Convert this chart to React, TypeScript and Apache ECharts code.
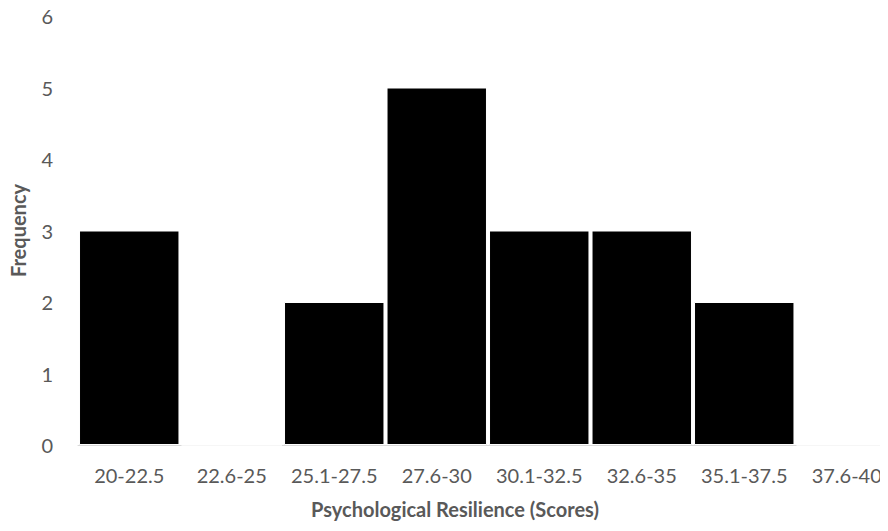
import React, { useEffect, useRef } from "react";
import * as echarts from "echarts";

const categories = ["20-22.5", "22.6-25", "25.1-27.5", "27.6-30", "30.1-32.5", "32.6-35", "35.1-37.5", "37.6-40"];
const frequencies = [3, 0, 2, 5, 3, 3, 2, 0];
const xTitle = "Psychological Resilience (Scores)";
const yTitle = "Frequency";

const FONT = "Lato, 'Open Sans', sans-serif";

export default function App() {
  const ref = useRef<HTMLDivElement>(null);
  useEffect(() => {
    if (!ref.current) return;
    const chart = echarts.init(ref.current, undefined, { renderer: "svg" });
    chart.setOption({
      animation: false,
      backgroundColor: "#ffffff",
      grid: { left: 78, top: 16, width: 820, bottom: 86, containLabel: false },
      xAxis: {
        type: "category",
        data: categories,
        axisLine: { show: true, lineStyle: { color: "#d9d9d9", width: 1 } },
        axisTick: { show: false },
        axisLabel: { color: "#595959", fontSize: 20, fontFamily: FONT, margin: 20, interval: 0 },
        name: xTitle,
        nameLocation: "middle",
        nameGap: 54,
        nameTextStyle: { color: "#595959", fontSize: 20, fontWeight: "bold", fontFamily: FONT, padding: [0, 66, 0, 0] },
      },
      yAxis: {
        type: "value",
        min: 0,
        max: 6,
        interval: 1,
        axisLine: { show: false },
        axisTick: { show: false },
        splitLine: { show: false },
        axisLabel: { color: "#595959", fontSize: 20, fontFamily: FONT, margin: 25 },
        name: yTitle,
        nameLocation: "middle",
        nameGap: 50,
        nameTextStyle: { color: "#595959", fontSize: 20, fontWeight: "bold", fontFamily: FONT },
      },
      series: [
        {
          type: "bar",
          data: frequencies,
          barCategoryGap: "2%",
          itemStyle: { color: "#000000", borderColor: "#ffffff", borderWidth: 1 },
        },
      ],
    });
    return () => chart.dispose();
  }, []);
  return (
    <div style={{ width: 888, height: 531, margin: -8, overflow: "hidden", position: "relative" }}>
      <div ref={ref} style={{ width: 910, height: 531 }} />
    </div>
  );
}
